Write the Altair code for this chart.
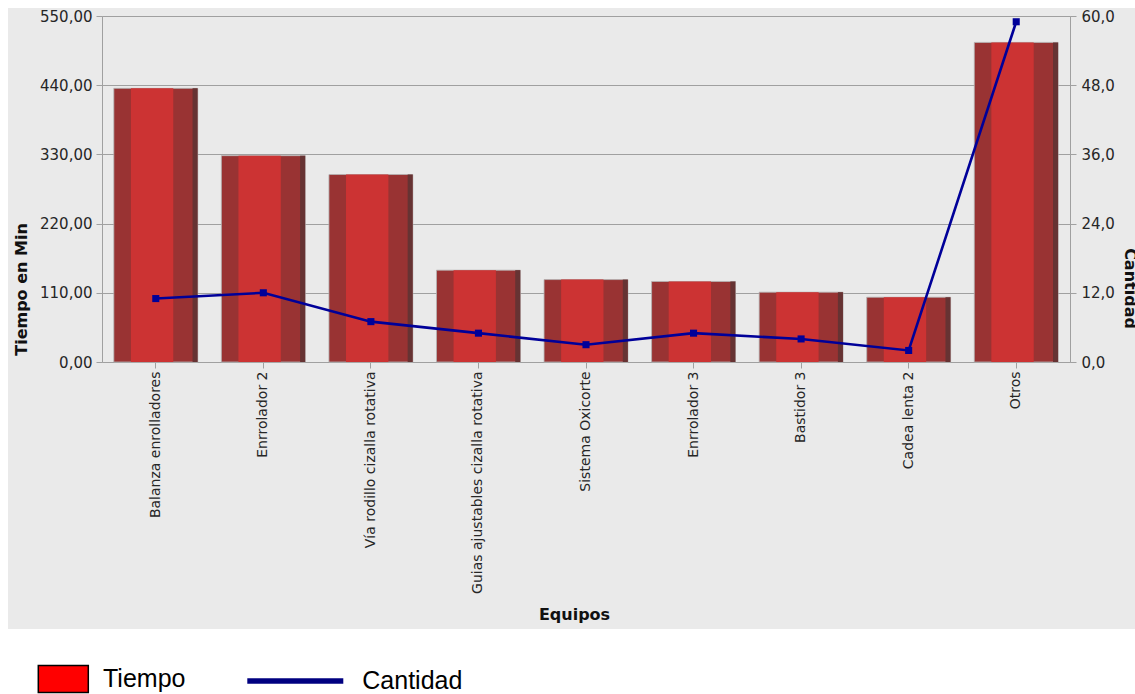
import altair as alt
import pandas as pd

# Equipment downtime: minutes per item (bars, left axis) and number of events (line, right axis)
equipos = [
    "Balanza enrolladores",
    "Enrrolador 2",
    "Vía rodillo cizalla rotativa",
    "Guias ajustables cizalla rotativa",
    "Sistema Oxicorte",
    "Enrrolador 3",
    "Bastidor 3",
    "Cadea lenta 2",
    "Otros",
]
tiempo = [435, 328, 298, 146, 131, 128, 111, 103, 508]
cantidad = [11, 12, 7, 5, 3, 5, 4, 2, 59]
ticks_tiempo = [0, 110, 220, 330, 440, 550]
ticks_cantidad = [0, 12, 24, 36, 48, 60]

df = pd.DataFrame({"equipo": equipos, "tiempo": tiempo, "cantidad": cantidad})
one_row = pd.DataFrame({"k": [0]})

# layout (pixels)
W, H = 968, 346
PAD_L, PAD_T = 102, 16
CANVAS_W, CANVAS_H = 1135, 694
PANEL_BOTTOM = 629  # bottom edge of the grey panel
PANEL_LEFT = 8
PANEL_TOP = 8

GRID = "#A0A0A0"
FONT = "DejaVu Sans"
LABEL_COLOR = "#262626"

x_enc = alt.X(
    "equipo:N",
    sort=equipos,
    title="Equipos",
    scale=alt.Scale(paddingInner=0.22, paddingOuter=0.11),
    axis=alt.Axis(
        labelAngle=-90,
        labelFont=FONT,
        labelFontSize=14,
        labelColor=LABEL_COLOR,
        labelPadding=3,
        labelLimit=0,
        tickColor=GRID,
        tickSize=6,
        domain=False,
        titleFont=FONT,
        titleFontSize=16,
        titleFontWeight="bold",
        titleColor="#111111",
        titleX=472,
        titleY=252,
        titleAlign="center",
        titleBaseline="middle",
    ),
)

y_tiempo = alt.Y(
    "tiempo:Q",
    scale=alt.Scale(domain=[0, 550], nice=False),
    axis=alt.Axis(
        values=ticks_tiempo,
        labelExpr="replace(format(datum.value, '.2f'), '.', ',')",
        grid=True,
        gridColor=GRID,
        gridWidth=1,
        domain=False,
        tickColor=GRID,
        tickSize=6,
        labelPadding=4,
        labelFont=FONT,
        labelFontSize=15,
        labelColor=LABEL_COLOR,
        labelOverlap=False,
        title="Tiempo en Min",
        titleFont=FONT,
        titleFontSize=16,
        titleFontWeight="bold",
        titleColor="#111111",
        titleAngle=270,
        titleX=-81,
        titleY=273,
        titleAlign="center",
        titleBaseline="middle",
    ),
)

y_cantidad = alt.Y(
    "cantidad:Q",
    scale=alt.Scale(domain=[0, 60], nice=False),
    axis=alt.Axis(
        orient="right",
        values=ticks_cantidad,
        labelExpr="replace(format(datum.value, '.1f'), '.', ',')",
        grid=False,
        domain=False,
        tickColor=GRID,
        tickSize=6,
        labelPadding=5,
        labelFont=FONT,
        labelFontSize=15,
        labelColor=LABEL_COLOR,
        labelOverlap=False,
        title="Cantidad",
        titleFont=FONT,
        titleFontSize=16,
        titleFontWeight="bold",
        titleColor="#111111",
        titleAngle=90,
        titleX=59,
        titleY=272,
        titleAlign="center",
        titleBaseline="middle",
    ),
)

base = alt.Chart(df)

# shaded "cylinder" bars: dark body, bright centre strip, darkest right edge
bar_body = base.mark_bar(color="#993333", stroke="#B4B4B4", strokeWidth=0.8).encode(
    x=x_enc, y=y_tiempo
)
bar_light = base.mark_bar(
    color="#CC3333", width=alt.RelativeBandSize(0.505), xOffset=-3.7
).encode(x=x_enc, y=y_tiempo)
bar_edge = base.mark_bar(
    color="#663333", width=alt.RelativeBandSize(0.06), xOffset=39.3
).encode(x=x_enc, y=y_tiempo)

legend_tiempo = (
    base.transform_calculate(serie="'Tiempo'")
    .mark_bar(opacity=0)
    .encode(
        x=x_enc,
        y=y_tiempo,
        fill=alt.Fill(
            "serie:N",
            scale=alt.Scale(domain=["Tiempo"], range=["#FF0000"]),
            legend=alt.Legend(
                orient="none",
                legendX=-64.7,
                legendY=637,
                title=None,
                padding=0,
                symbolType="M-1,-0.54H1V0.54H-1Z",
                symbolSize=2500,
                symbolStrokeColor="#000000",
                symbolStrokeWidth=1.5,
                symbolOpacity=1,
                labelFont="Liberation Sans",
                labelFontSize=25,
                labelColor="#000000",
                labelOffset=13.7,
                zindex=1,
            ),
        ),
    )
)

bars = alt.layer(bar_body, bar_light, bar_edge, legend_tiempo)

line = base.mark_line(color="#000099", strokeWidth=2.6).encode(x=x_enc, y=y_cantidad)
points = base.mark_point(
    shape="square", filled=True, size=50, color="#000099", opacity=1
).encode(x=x_enc, y=y_cantidad)
legend_cantidad = (
    base.transform_calculate(serie="'Cantidad'")
    .mark_line(opacity=0)
    .encode(
        x=x_enc,
        y=y_cantidad,
        stroke=alt.Stroke(
            "serie:N",
            scale=alt.Scale(domain=["Cantidad"], range=["#000080"]),
            legend=alt.Legend(
                orient="none",
                legendX=142.3,
                legendY=614,
                title=None,
                padding=0,
                symbolType="stroke",
                symbolSize=9216,
                symbolStrokeWidth=5.5,
                symbolOpacity=1,
                labelFont="Liberation Sans",
                labelFontSize=25,
                labelColor="#000000",
                labelOffset=16,
                zindex=1,
            ),
        ),
    )
)

series = alt.layer(line, points, legend_cantidad)

# white margins around the grey chart panel
white = alt.Chart(one_row).mark_rect(color="#FFFFFF")
margin_bottom = white.encode(
    x=alt.value(-PAD_L), x2=alt.value(CANVAS_W - PAD_L),
    y=alt.value(PANEL_BOTTOM - PAD_T), y2=alt.value(CANVAS_H - PAD_T),
)
margin_left = white.encode(
    x=alt.value(-PAD_L), x2=alt.value(PANEL_LEFT - PAD_L),
    y=alt.value(-PAD_T), y2=alt.value(PANEL_BOTTOM - PAD_T),
)
margin_top = white.encode(
    x=alt.value(-PAD_L), x2=alt.value(CANVAS_W - PAD_L),
    y=alt.value(-PAD_T), y2=alt.value(PANEL_TOP - PAD_T),
)

chart = (
    alt.layer(bars, series, margin_bottom, margin_left, margin_top)
    .resolve_scale(y="independent")
    .properties(
        width=W,
        height=H,
        autosize="none",
        padding={
            "left": PAD_L,
            "top": PAD_T,
            "right": CANVAS_W - PAD_L - W,
            "bottom": CANVAS_H - PAD_T - H,
        },
        background="#EAEAEA",
    )
    .configure_view(stroke=GRID, strokeWidth=1)
)

chart.save("out.html", embed_options={"renderer": "svg", "actions": False})
